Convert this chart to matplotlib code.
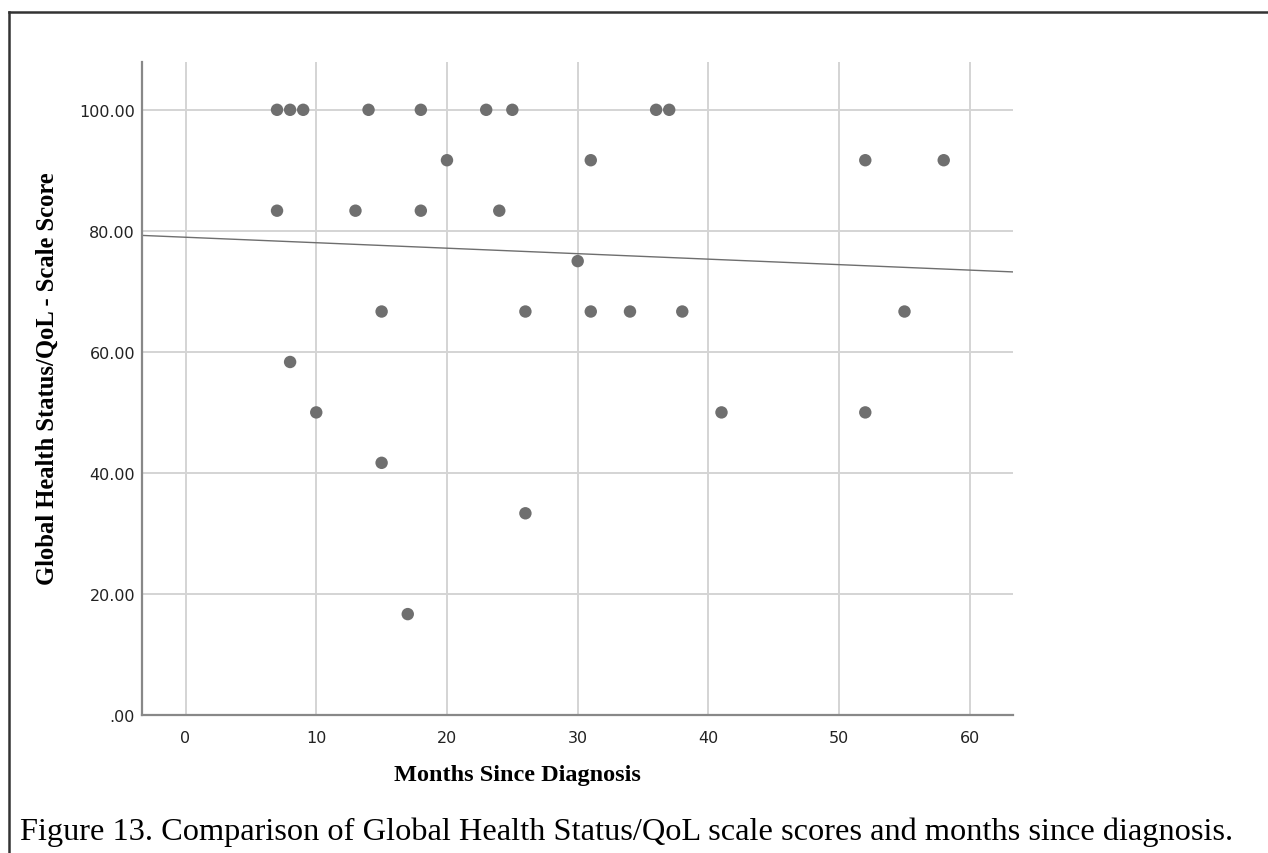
import numpy as np
import matplotlib
matplotlib.use("Agg")
import matplotlib.pyplot as plt
from matplotlib.lines import Line2D

# months since diagnosis / global health status score (one entry per patient)
MONTHS = [7, 8, 9, 14, 18, 23, 25, 36, 37,
          20, 31, 52, 58,
          7, 13, 18, 24,
          30,
          15, 26, 31, 34, 38, 55,
          8,
          10, 41, 52,
          15,
          26,
          17]
SCORES = [100.0] * 9 + [91.67] * 4 + [83.33] * 4 + [75.0] + [66.67] * 6 + \
         [58.33] + [50.0] * 3 + [41.67] + [33.33] + [16.67]

X_TICKS = [0, 10, 20, 30, 40, 50, 60]
Y_TICKS = [0, 20, 40, 60, 80, 100]
Y_TICKLABELS = [".00", "20.00", "40.00", "60.00", "80.00", "100.00"]

X_LEGEND = "Months Since Diagnosis"
Y_LEGEND = "Global Health Status/QoL - Scale Score"
CAPTION = "Figure 13. Comparison of Global Health Status/QoL scale scores and months since diagnosis."

W, H = 1268, 854
fig = plt.figure(figsize=(W / 100, H / 100), dpi=100)
ax = fig.add_axes([142 / W, 1 - 716 / H, (1013 - 142) / W, (716 - 63) / H])

ax.set_xlim(-3.33, 63.3)
ax.set_ylim(0, 107.9)

ax.grid(True, color="#d4d4d4", linewidth=1.4, zorder=0)
ax.set_axisbelow(True)

# fit line (least squares, as SPSS draws it)
slope, intercept = np.polyfit(MONTHS, SCORES, 1)
xs = np.array(ax.get_xlim())
ax.plot(xs, intercept + slope * xs, color="#6e6e6e", linewidth=1.0, zorder=2)

ax.scatter(MONTHS, SCORES, s=80, color="#6f6f6f", edgecolors="none", zorder=3)

ax.set_xticks(X_TICKS)
ax.set_yticks(Y_TICKS)
ax.set_yticklabels(Y_TICKLABELS)
ax.tick_params(axis="both", length=0, labelsize=11.5, labelcolor="#222222")
ax.tick_params(axis="x", pad=11)
ax.tick_params(axis="y", pad=5)

for s in ("top", "right"):
    ax.spines[s].set_visible(False)
for s in ("left", "bottom"):
    ax.spines[s].set_color("#888888")
    ax.spines[s].set_linewidth(1.6)

fig.text(517 / W, 1 - 776 / H, X_LEGEND, ha="center", va="center",
         family="Liberation Serif", fontweight="bold", fontsize=17.5)
fig.text(47 / W, 1 - 379 / H, Y_LEGEND, ha="center", va="center", rotation=90,
         family="Liberation Serif", fontweight="bold", fontsize=17.7)
fig.text(20 / W, 1 - 832 / H, CAPTION, ha="left", va="center",
         family="Liberation Serif", fontsize=23.3)

# table cell border around the figure
fig.add_artist(Line2D([8.5 / W, 8.5 / W], [0, 1 - 13 / H], transform=fig.transFigure,
                      color="#333333", linewidth=1.8))
fig.add_artist(Line2D([8.5 / W, 1], [1 - 13 / H, 1 - 13 / H], transform=fig.transFigure,
                      color="#333333", linewidth=1.8))

fig.savefig("out.png", dpi=100)
